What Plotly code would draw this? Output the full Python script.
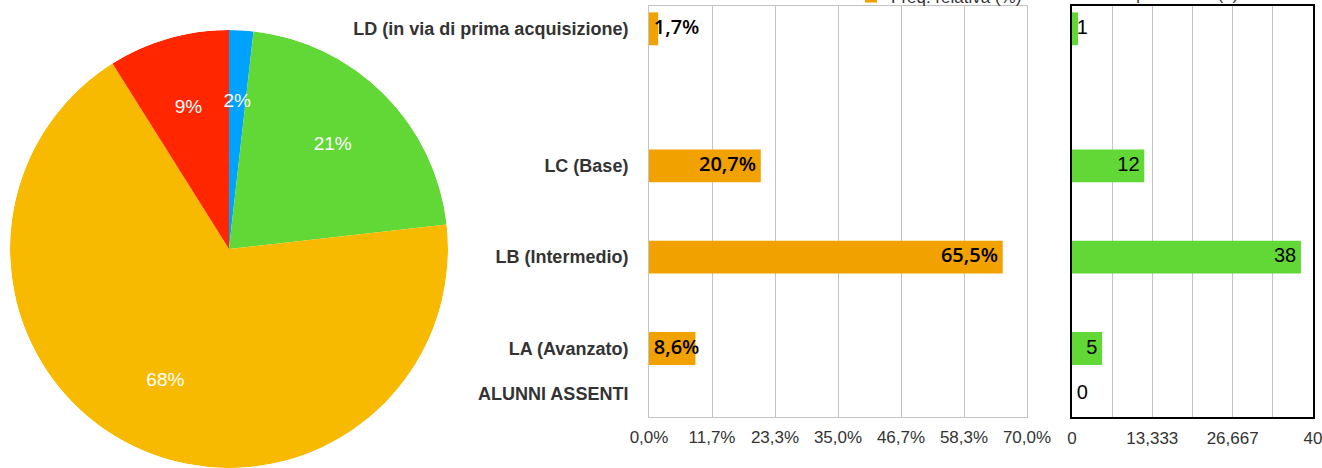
import plotly.graph_objects as go

# ---------------- data ----------------
categories = [
    "LD (in via di prima acquisizione)",
    "LC (Base)",
    "LB (Intermedio)",
    "LA (Avanzato)",
    "ALUNNI ASSENTI",
]
freq_rel = [1.7, 20.7, 65.5, 8.6, None]          # Freq. relativa (%)
freq_abs = [1, 12, 38, 5, 0]                     # Freq. assoluta (#)
pie_labels = categories[:4]
pie_values = [1, 12, 38, 5]

# ---------------- layout constants ----------------
W, H = 1322, 468
row_slots = [8, 5, 3, 1, 0]          # vertical slot of each category row
ORANGE = "#F1A100"
GREEN = "#61D836"
pie_colors = ["#00A2FF", "#61D836", "#F8BA00", "#FF2600"]

REL_RANGE = [0, 70]
ABS_RANGE = [0, 40]
x1_dom = [649 / W, 1027 / W]
x2_dom = [1072 / W, 1313 / W]
y_dom = [(H - 417) / H, (H - 6) / H]
pie_dom_x = [10 / W, 448 / W]
pie_dom_y = [0, (H - 30) / H]


def fmt_it(v, dec):
    return f"{v:.{dec}f}".replace(".", ",")


def label_positions(values, texts, rng, dom, char_w):
    """Inside-end label if it fits in the bar, otherwise start at the axis."""
    axis_px = (dom[1] - dom[0]) * W
    xs, pos = [], []
    for v, t in zip(values, texts):
        if v is None:
            xs.append(None); pos.append("middle right"); continue
        bar_px = v / (rng[1] - rng[0]) * axis_px
        if bar_px >= len(t) * char_w + 10:
            xs.append(v); pos.append("middle left")
        else:
            xs.append(0); pos.append("middle right")
    return xs, pos


rel_texts = [fmt_it(v, 1) + "%" if v is not None else "" for v in freq_rel]
abs_texts = [str(v) for v in freq_abs]
rel_x, rel_pos = label_positions(freq_rel, rel_texts, REL_RANGE, x1_dom, 12)
abs_x, abs_pos = label_positions(freq_abs, abs_texts, ABS_RANGE, x2_dom, 11)

fig = go.Figure()

# ---------------- pie (drawn as polar wedges so labels can sit on top) ----------------
total = sum(pie_values)
theta, widths, ptxt, cum = [], [], [], 0
for v in pie_values:
    theta.append((cum + v / 2) / total * 360)
    widths.append(v / total * 360)
    ptxt.append(f"{round(100 * v / total)}%")
    cum += v

fig.add_trace(go.Barpolar(
    r=[1] * len(pie_values), theta=theta, width=widths, base=0,
    marker=dict(color=pie_colors, line=dict(width=0)),
    text=pie_labels, hoverinfo="text", showlegend=False, subplot="polar",
))
fig.add_trace(go.Scatterpolar(
    r=[0.67] * len(pie_values), theta=theta, text=ptxt, mode="text",
    textfont=dict(family="Liberation Sans", size=19, color="white"),
    showlegend=False, hoverinfo="skip", subplot="polar",
))

# ---------------- bars: relative frequency ----------------
fig.add_trace(go.Bar(
    x=freq_rel, y=row_slots, orientation="h", width=0.72,
    marker=dict(color=ORANGE, line=dict(width=0)),
    name="Freq. relativa (%)", legend="legend",
    xaxis="x", yaxis="y",
))
fig.add_trace(go.Scatter(
    x=rel_x, y=row_slots, text=rel_texts, mode="markers+text",
    textposition=rel_pos, marker=dict(size=6, color="rgba(0,0,0,0)"),
    textfont=dict(family="Open Sans", size=20, color="black", weight=600),
    showlegend=False, hoverinfo="skip", xaxis="x", yaxis="y",
))

# ---------------- bars: absolute frequency ----------------
fig.add_trace(go.Bar(
    x=freq_abs, y=row_slots, orientation="h", width=0.72,
    marker=dict(color=GREEN, line=dict(width=0)),
    name="Freq. assoluta (#)", legend="legend2",
    xaxis="x2", yaxis="y2",
))
fig.add_trace(go.Scatter(
    x=abs_x, y=row_slots, text=abs_texts, mode="markers+text",
    textposition=abs_pos, marker=dict(size=6, color="rgba(0,0,0,0)"),
    textfont=dict(family="Liberation Sans", size=20, color="black"),
    showlegend=False, hoverinfo="skip", xaxis="x2", yaxis="y2",
))

tickfont = dict(family="Liberation Sans", size=17, color="#333333")
GRID = "#c4c4c4"

fig.update_layout(
    width=W, height=H,
    margin=dict(l=0, r=0, t=0, b=0, pad=0, autoexpand=False),
    paper_bgcolor="white", plot_bgcolor="white",
    separators=",.",
    barmode="overlay",
    polar=dict(
        domain=dict(x=pie_dom_x, y=pie_dom_y),
        bgcolor="rgba(0,0,0,0)", hole=0,
        radialaxis=dict(range=[0, 1], visible=False),
        angularaxis=dict(rotation=90, direction="clockwise", visible=False),
    ),
    xaxis=dict(
        domain=x1_dom, range=REL_RANGE, tickmode="linear", tick0=0,
        dtick=(REL_RANGE[1] - REL_RANGE[0]) / 6, tickformat=".1f", ticksuffix="%",
        showgrid=True, gridcolor=GRID, gridwidth=1, zeroline=False,
        showline=True, linecolor=GRID, linewidth=1, mirror=True,
        ticks="", tickfont=tickfont, ticklabelstandoff=5, anchor="y",
        ticklabeloverflow="allow",
    ),
    yaxis=dict(
        domain=y_dom, range=[-0.5, 8.5], tickmode="array",
        tickvals=row_slots, ticktext=categories, showgrid=False, zeroline=False,
        showline=True, linecolor=GRID, linewidth=1, mirror=True, ticks="",
        tickfont=dict(family="Liberation Sans", size=18, color="#333333", weight="bold"),
        ticklabelstandoff=16, anchor="x",
    ),
    xaxis2=dict(
        domain=x2_dom, range=ABS_RANGE, tickmode="linear", tick0=0,
        dtick=(ABS_RANGE[1] - ABS_RANGE[0]) / 3, tickformat=".3~f",
        minor=dict(tickmode="linear", tick0=0, dtick=(ABS_RANGE[1] - ABS_RANGE[0]) / 6,
                   showgrid=True, gridcolor=GRID, gridwidth=1, ticks=""),
        showgrid=True, gridcolor=GRID, gridwidth=1, zeroline=False,
        showline=True, linecolor="black", linewidth=1.5, mirror=True,
        ticks="", tickfont=tickfont, ticklabelstandoff=5, anchor="y2",
        ticklabeloverflow="allow",
    ),
    yaxis2=dict(
        domain=y_dom, range=[-0.5, 8.5], showticklabels=False, showgrid=False,
        zeroline=False, showline=True, linecolor="black", linewidth=1.5,
        mirror=True, ticks="", anchor="x2",
    ),
    legend=dict(
        x=851 / W, xanchor="left", y=1 + 3 / H, yanchor="middle",
        orientation="h", bgcolor="rgba(0,0,0,0)",
        font=dict(family="Liberation Sans", size=17, color="#333333"),
    ),
    legend2=dict(
        x=1065 / W, xanchor="left", y=1 + 6 / H, yanchor="middle",
        orientation="h", bgcolor="rgba(0,0,0,0)",
        font=dict(family="Liberation Sans", size=17, color="#333333"),
    ),
)

fig.write_html(
    "out.html",
    config={"displayModeBar": False},
    post_script="document.body.style.margin='0';document.body.style.padding='0';",
)
